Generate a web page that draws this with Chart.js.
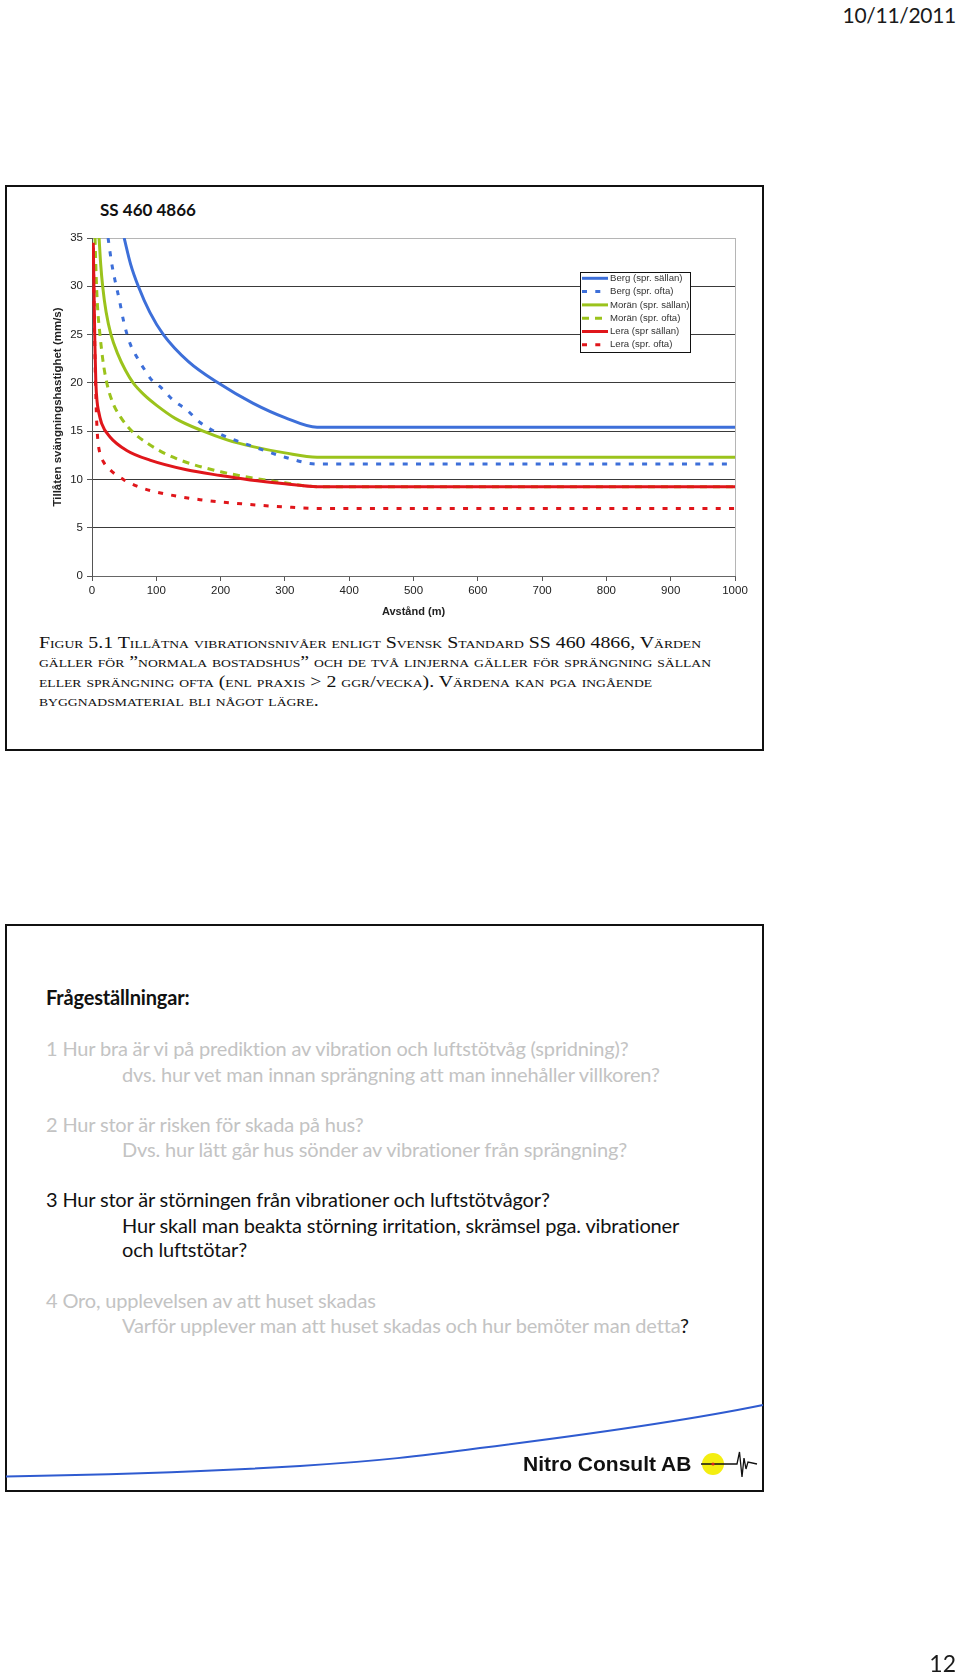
<!DOCTYPE html>
<html>
<head>
<meta charset="utf-8">
<script src="https://cdn.jsdelivr.net/npm/chart.js@4.4.1/dist/chart.umd.min.js"></script>
<style>
body{margin:0;background:#fff;}
#page{position:relative;width:960px;height:1676px;overflow:hidden;font-family:Lato,sans-serif;color:#111;}
.box{position:absolute;border:2px solid #111;box-sizing:border-box;}
.ln{position:absolute;white-space:nowrap;font-size:20px;line-height:24px;letter-spacing:-0.17px;}
.g{color:#c3c3c3;}
#cap{position:absolute;left:39px;top:633px;font-family:"Liberation Serif",serif;font-size:16px;line-height:19.3px;font-variant:small-caps;white-space:nowrap;color:#111;transform:scaleX(1.24);transform-origin:0 0;}
</style>
</head>
<body>
<div id="page">

<div style="position:absolute;right:4px;top:2px;font-size:21px;line-height:26px;letter-spacing:-0.3px;color:#1a1a1a;">10/11/2011</div>

<div class="box" style="left:5px;top:185px;width:759px;height:566px;"></div>
<div style="position:absolute;left:100px;top:200px;font-weight:bold;font-size:17px;line-height:20px;">SS 460 4866</div>

<div style="position:absolute;left:20px;top:225px;width:740px;height:400px;">
<canvas id="Chart1HTML" width="740" height="400"></canvas>
</div>

<div id="cap">Figur 5.1 Tillåtna vibrationsnivåer enligt Svensk Standard SS 460 4866, Värden<br>gäller för ”normala bostadshus” och de två linjerna gäller för sprängning sällan<br>eller sprängning ofta (enl praxis &gt; 2 ggr/vecka). Värdena kan pga ingående<br>byggnadsmaterial bli något lägre.</div>

<div class="box" style="left:5px;top:924px;width:759px;height:568px;"></div>
<div class="ln" style="left:46px;top:985px;font-weight:bold;">Frågeställningar:</div>
<div class="ln g" style="left:46px;top:1036px;">1 Hur bra är vi på prediktion av vibration och luftstötvåg (spridning)?</div>
<div class="ln g" style="left:122px;top:1062px;">dvs. hur vet man innan sprängning att man innehåller villkoren?</div>
<div class="ln g" style="left:46px;top:1112px;">2 Hur stor är risken för skada på hus?</div>
<div class="ln g" style="left:122px;top:1137px;">Dvs. hur lätt går hus sönder av vibrationer från sprängning?</div>
<div class="ln" style="left:46px;top:1187px;">3 Hur stor är störningen från vibrationer och luftstötvågor?</div>
<div class="ln" style="left:122px;top:1213px;">Hur skall man beakta störning irritation, skrämsel pga. vibrationer</div>
<div class="ln" style="left:122px;top:1237px;">och luftstötar?</div>
<div class="ln g" style="left:46px;top:1288px;">4 Oro, upplevelsen av att huset skadas</div>
<div class="ln" style="left:122px;top:1313px;"><span class="g">Varför upplever man att huset skadas och hur bemöter man detta</span>?</div>

<svg style="position:absolute;left:0;top:0;" width="960" height="1676">
<path d="M6 1476.5 C120 1474.5,220 1471,300 1466 C380 1461,420 1456,480 1448 C560 1438,680 1422,763 1405" fill="none" stroke="#2f5bd0" stroke-width="2"/>
<circle cx="713" cy="1464" r="11" fill="#f4ee10"/>
<path d="M701 1464 L737 1464 L739.5 1452 L742 1477 L744 1458 L746 1469 L748 1462 L757 1464" fill="none" stroke="#111" stroke-width="1.3"/>
<circle cx="713" cy="1464" r="1.6" fill="#d22"/>
</svg>
<div style="position:absolute;left:523px;top:1452px;font-family:'Liberation Sans',Arial,sans-serif;font-weight:bold;font-size:21px;line-height:24px;">Nitro Consult AB</div>

<div style="position:absolute;right:4px;top:1651px;font-size:23px;line-height:24px;color:#1a1a1a;">12</div>
</div>

<script>
// distances (m) and allowed velocities (mm/s)
const BERG_SALLAN_D=[50,60,72,90,111,150,196,250,300,350,1000];
const BERG_SALLAN_V=[35,32.3,30,27.3,25,22.2,20,17.9,16.4,15.4,15.4];

const BERG_OFTA_D=[25,30.6,35.8,42.5,49.8,59,69.5,82.4,92.8,105.8,126.4,147.3,168,199,251,300,350,1000];
const BERG_OFTA_V=[35,32.4,30.6,28.6,26.2,24.1,22.7,21.3,20.3,19.6,18.2,17.2,15.9,14.7,13.4,12.3,11.6,11.6];

const MORAN_SALLAN_D=[11,13.5,16.6,22,29.5,40,52,64,82,100,130,173,210,250,300,350,1000];
const MORAN_SALLAN_V=[35,32.3,30,27.3,25,23,21.3,20,18.7,17.7,16.3,15,14.1,13.4,12.75,12.3,12.3];

const MORAN_OFTA_D=[4.7,6.5,8.5,12.4,17,23,32,45,62,85,116,150,200,250,300,350,1000];
const MORAN_OFTA_V=[35,31,28,25,22.3,20,18,16.4,15,13.8,12.6,11.7,10.8,10.15,9.65,9.25,9.25];

const LERA_SALLAN_D=[2,3,4.5,6,8,9.8,15,28,54,90,147,200,246,300,350,1000];
const LERA_SALLAN_V=[34.5,30,24,20,18,17.2,15.8,14.4,13,12,11,10.4,9.95,9.55,9.25,9.25];

const LERA_OFTA_D=[2,3,4,5.5,7.3,9.5,12.4,18,28,48.7,70,100,168,246,300,350,1000];
const LERA_OFTA_V=[34,29,25,20,16,13.8,12.7,11.8,11,10,9.3,8.7,7.9,7.4,7.15,7.0,7.0];

const LABELS=['Berg (spr. sällan)','Berg (spr. ofta)','Morän (spr. sällan)','Morän (spr. ofta)','Lera (spr sällan)','Lera (spr. ofta)'];

const X_MIN=0,X_MAX=1000,X_STEP=100;
const Y_MIN=0,Y_MAX=35,Y_STEP=5;

const BLUE='#3d6fd9',GREEN='#9bc31c',RED='#e0161b';

function Pts(D,V){return D.map((d,i)=>({x:d,y:V[i]}))}

function Ds(i,D,V,col,dash,order){
return {label:LABELS[i],data:Pts(D,V),borderColor:col,borderWidth:3,borderDash:dash,
pointRadius:0,fill:false,cubicInterpolationMode:'monotone',order:order||0}
}

// legend drawn in a box inside the plot, like the original figure
const boxLegend={
id:'boxLegend',
afterDatasetsDraw(chart,args,o){
const c=chart.ctx,ds=chart.data.datasets;
c.save();
c.fillStyle='#fff';c.fillRect(o.x,o.y,o.w,o.h);
c.strokeStyle='#111';c.lineWidth=1;c.setLineDash([]);c.strokeRect(o.x+0.5,o.y+0.5,o.w,o.h);
c.font=o.font;c.textBaseline='middle';
ds.forEach((d,i)=>{
const yy=o.y+o.first+i*o.row;
c.strokeStyle=d.borderColor;c.lineWidth=d.borderWidth;c.setLineDash(d.borderDash||[]);
c.beginPath();c.moveTo(o.x+2,yy);c.lineTo(o.x+2+o.sample,yy);c.stroke();
c.setLineDash([]);
c.fillStyle='#333';c.fillText(d.label,o.x+o.textX,yy);
});
c.restore();
}
};

let Chart1
function LoadC1(){
Chart1=new Chart(document.getElementById('Chart1HTML'),{
type:'line',
data:{datasets:[
Ds(0,BERG_SALLAN_D,BERG_SALLAN_V,BLUE,[]),
Ds(1,BERG_OFTA_D,BERG_OFTA_V,BLUE,[5,8.3]),
Ds(2,MORAN_SALLAN_D,MORAN_SALLAN_V,GREEN,[]),
Ds(3,MORAN_OFTA_D,MORAN_OFTA_V,GREEN,[7,6],1),
Ds(4,LERA_SALLAN_D,LERA_SALLAN_V,RED,[]),
Ds(5,LERA_OFTA_D,LERA_OFTA_V,RED,[5,8.3])
]},
options:{
responsive:false,animation:false,devicePixelRatio:1,
layout:{padding:{top:13,right:25,left:0,bottom:0}},
plugins:{legend:{display:false},tooltip:{enabled:false},
boxLegend:{x:560,y:47,w:110,h:80,first:6.3,row:13.3,sample:26,textX:30,font:'9.6px "Liberation Sans", Arial, sans-serif'}},
scales:{
x:{type:'linear',min:X_MIN,max:X_MAX,
ticks:{stepSize:X_STEP,color:'#222',padding:3,font:{family:'"Liberation Sans", Arial',size:11.5},callback:v=>String(v)},
grid:{color:c=>c.tick.value===X_MAX?'#b5b5b5':'rgba(0,0,0,0)',tickColor:'#555',tickLength:5},
border:{color:'#666'},
title:{display:true,text:'Avstånd (m)',color:'#222',padding:{bottom:6.4,top:0},font:{family:'"Liberation Sans", Arial',size:11,weight:'bold'}},
afterFit(s){s.height=49}},
y:{type:'linear',min:Y_MIN,max:Y_MAX,
ticks:{stepSize:Y_STEP,color:'#222',padding:4,font:{family:'"Liberation Sans", Arial',size:11.5}},
grid:{color:c=>c.tick.value===Y_MAX?'#b5b5b5':(c.tick.value===Y_MIN?'rgba(0,0,0,0)':'#3a3a3a'),tickColor:'#555',tickLength:5},
border:{color:'#555'},
title:{display:true,text:'Tillåten svängningshastighet (mm/s)',color:'#222',padding:{top:31,bottom:0},font:{family:'"Liberation Sans", Arial',size:11.5,weight:'bold'}},
afterFit(s){s.width=72}}
}
},
plugins:[boxLegend]
});
}
LoadC1();
</script>
</body>
</html>
